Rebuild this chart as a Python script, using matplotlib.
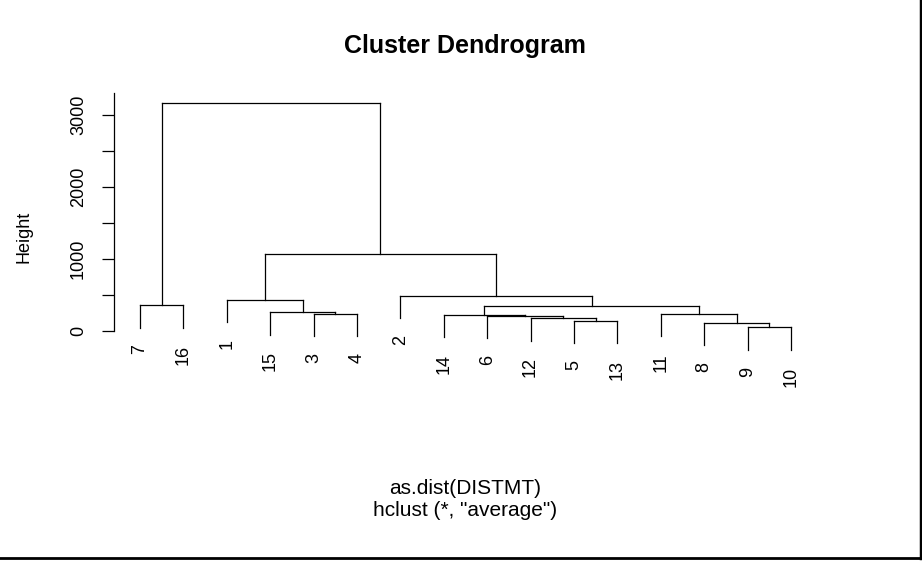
import numpy as np
from matplotlib import pyplot as plt
from matplotlib.lines import Line2D

plt.rcParams['font.family'] = ['Liberation Sans', 'DejaVu Sans']

# leaf order along the x axis
leaf_labels = ['7', '16', '1', '15', '3', '4', '2', '14', '6', '12', '5', '13', '11', '8', '9', '10']

# merges, R hclust style: negative = leaf label, positive = earlier merge (1-based)
merge_left = [-9, -8, -5, -12, -6, -14, -11, -3, -15, 6, -7, -1, -2, 12, 11]
merge_right = [-10, 1, -13, 3, 4, 5, 2, -4, 8, 7, -16, 9, 10, 13, 14]
merge_height = [47, 111, 137, 172, 204, 218, 232, 236, 256, 346, 352, 427, 487, 1063, 3171]

ytick_vals = [0, 500, 1000, 1500, 2000, 2500, 3000]
ytick_text = ['0', '', '1000', '', '2000', '', '3000']

fig = plt.figure(figsize=(9.22, 5.62), dpi=100)
ax = fig.add_axes([114 / 922, 1 - 359.6 / 562, 703 / 922, (359.6 - 92.9) / 562])

hang = 0.1 * (max(merge_height) - min(merge_height))
leaf_x = {lab: i + 1 for i, lab in enumerate(leaf_labels)}
node_x = {}
lc = 'black'
lw = 0.9

for k in range(len(merge_height)):
    h = merge_height[k]
    xs = []
    for c in (merge_left[k], merge_right[k]):
        if c < 0:
            x = leaf_x[str(-c)]
            y0 = h - hang
            ax.plot([x, x], [y0, h], color=lc, lw=lw)
            ax.annotate(str(-c), (x, y0), xytext=(0, -12), textcoords='offset points',
                        rotation=90, ha='center', va='top', fontsize=13)
        else:
            x, ch = node_x[c]
            ax.plot([x, x], [ch, h], color=lc, lw=lw)
        xs.append(x)
    ax.plot(xs, [h, h], color=lc, lw=lw)
    node_x[k + 1] = (np.mean(xs), h)

lo = min(merge_height) - hang
hi = max(merge_height)
pad = 0.04 * (hi - lo)
ax.set_ylim(lo - pad, hi + pad)
ax.set_xlim(0.4, len(leaf_labels) + 0.6)

for s in ['top', 'right', 'bottom']:
    ax.spines[s].set_visible(False)
ax.spines['left'].set_bounds(0, hi + pad)
ax.spines['left'].set_linewidth(0.9)
ax.set_xticks([])
ax.set_yticks(ytick_vals)
ax.set_yticklabels(ytick_text, rotation=90, va='center', fontsize=13)
ax.tick_params(axis='y', length=8.5, width=0.9, pad=11)
ax.set_ylabel('Height', fontsize=13)
ax.yaxis.set_label_coords(-0.116, 0.46)

fig.text(465 / 922, 1 - 46 / 562, 'Cluster Dendrogram', ha='center', va='center',
         fontsize=18, fontweight='bold')
fig.text(465 / 922, 1 - 488 / 562, 'as.dist(DISTMT)', ha='center', va='center', fontsize=15)
fig.text(465 / 922, 1 - 510 / 562, 'hclust (*, "average")', ha='center', va='center', fontsize=15)

# screenshot frame
fig.add_artist(Line2D([0, 920.5 / 922], [1 - 558 / 562, 1 - 558 / 562], color='black', lw=2))
fig.add_artist(Line2D([920.5 / 922, 920.5 / 922], [1 - 558 / 562, 1], color='black', lw=2.5))

fig.savefig('out.png', dpi=100)
